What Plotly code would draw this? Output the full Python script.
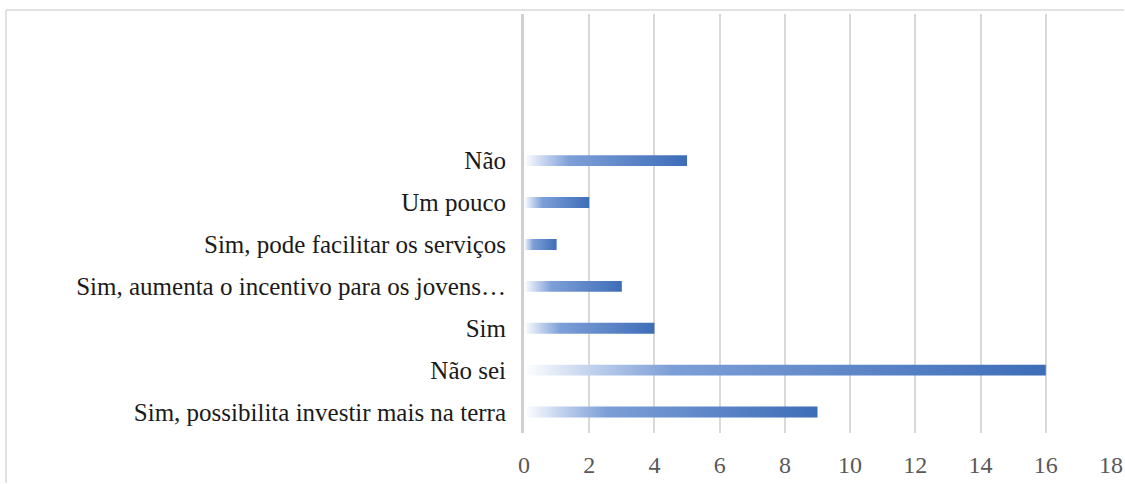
import plotly.graph_objects as go

categories = [
    "Sim, possibilita investir mais na terra",
    "Não sei",
    "Sim",
    "Sim, aumenta o incentivo para os jovens…",
    "Sim, pode facilitar os serviços",
    "Um pouco",
    "Não",
]
values = [9, 16, 4, 3, 1, 2, 5]
x_ticks = list(range(0, 19, 2))

W, H = 1125, 484
ML, MR, MT, MB = 524, 14, 14, 51
half = 0.13

fig = go.Figure()
for i, (cat, v) in enumerate(zip(categories, values)):
    fig.add_trace(go.Scatter(
        x=[0, v, v, 0, 0],
        y=[i - half, i - half, i + half, i + half, i - half],
        mode="lines",
        fill="toself",
        line=dict(width=0, color="rgba(0,0,0,0)"),
        fillgradient=dict(
            type="horizontal",
            colorscale=[[0, "#ffffff"], [0.12, "#c5d4ee"], [0.28, "#7d9fd7"], [1, "#3d6db8"]],
        ),
        name=cat,
        hoverinfo="text",
        text=f"{cat}: {v}",
        showlegend=False,
    ))

pw = W - ML - MR
ph = H - MT - MB
bx0 = (6 - ML) / pw
bx1 = (W - 1 - ML) / pw
by0 = -(H - 1 - MT - ph) / ph
by1 = 1 + (MT - 10) / ph
# outer chart border (light gray): only left and top edges are visible in the frame
fig.add_shape(type="line", xref="paper", yref="paper", x0=bx0, x1=bx1, y0=by1, y1=by1,
              line=dict(color="#d9d9d9", width=1.5), layer="below")
fig.add_shape(type="line", xref="paper", yref="paper", x0=bx0, x1=bx0, y0=by0, y1=by1,
              line=dict(color="#d9d9d9", width=1.5), layer="below")

fig.update_layout(
    width=W, height=H,
    margin=dict(l=ML, r=MR, t=MT, b=MB, pad=0, autoexpand=False),
    paper_bgcolor="white", plot_bgcolor="white",
    font=dict(family="Liberation Serif", size=25, color="#1a1a1a"),
    xaxis=dict(
        range=[0, 18], tickvals=x_ticks, ticktext=[str(t) for t in x_ticks],
        showgrid=True, gridcolor="#d9d9d9", gridwidth=1.5,
        zeroline=False, showline=False, ticks="", automargin=False,
        tickfont=dict(color="#595959", size=24, family="Liberation Serif"),
        ticklabelstandoff=15, fixedrange=True,
    ),
    yaxis=dict(
        range=[-0.5, 9.5], tickvals=list(range(len(categories))), ticktext=categories,
        showgrid=False, zeroline=False, showline=True, linecolor="#d0d0d0", linewidth=3,
        ticks="", automargin=False,
        tickfont=dict(color="#1a1a1a", size=25, family="Liberation Serif"),
        ticklabelstandoff=10, fixedrange=True,
    ),
)

fig.write_html("out.html", post_script="document.body.style.margin='0';", config={"displayModeBar": False})
